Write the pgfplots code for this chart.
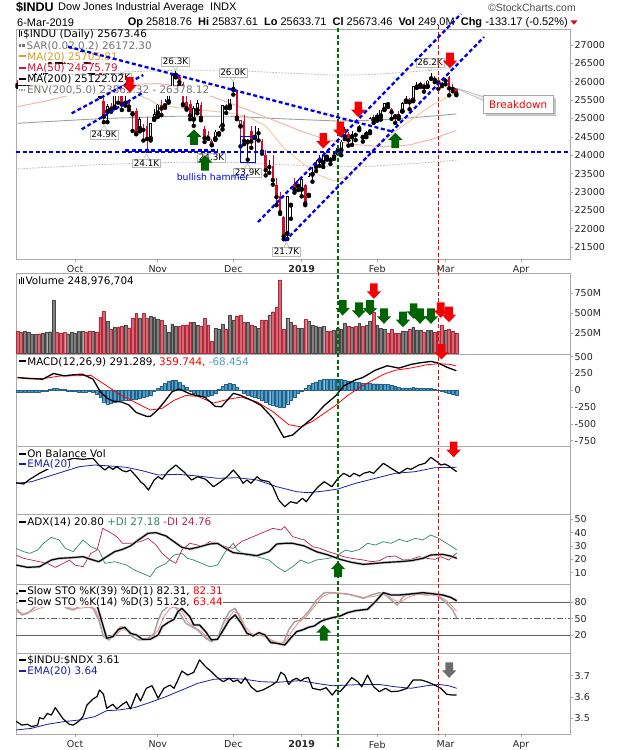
\documentclass[border=0pt]{standalone}
\usepackage{fontspec}
\setmainfont{DejaVu Sans}
\newfontfamily\hdr{Liberation Sans}
\usepackage{pgfplots}
\usepackage{pgfplotstable}
\pgfplotsset{compat=1.18}

\definecolor{bord}{RGB}{170,170,170}
\definecolor{cred}{RGB}{205,15,45}
\definecolor{vred}{RGB}{210,105,115}
\definecolor{vredd}{RGB}{180,40,60}
\definecolor{vgray}{RGB}{128,128,128}
\definecolor{vgrayd}{RGB}{70,70,70}
\definecolor{hblue}{RGB}{80,160,200}
\definecolor{hblued}{RGB}{35,95,135}
\definecolor{maA}{RGB}{240,205,160}
\definecolor{maAt}{RGB}{215,160,35}
\definecolor{maB}{RGB}{245,180,180}
\definecolor{maBt}{RGB}{210,20,60}
\definecolor{maC}{RGB}{160,160,160}
\definecolor{envc}{RGB}{185,185,185}
\definecolor{annb}{RGB}{0,0,235}
\definecolor{dgreen}{RGB}{0,110,0}
\definecolor{agreen}{RGB}{0,100,0}
\definecolor{ared}{RGB}{245,0,0}
\definecolor{dip}{RGB}{45,140,100}
\definecolor{dim}{RGB}{185,35,85}
\definecolor{navyl}{RGB}{30,30,165}
\definecolor{stok}{RGB}{165,165,165}
\definecolor{stod}{RGB}{240,140,140}

\newcommand\lgf{\fontsize{10.4}{11}\selectfont}
\newcommand\tkf{\fontsize{9.5}{11}\selectfont}
\newcommand\klf{\fontsize{8.8}{10}\selectfont}

% daily bars: index, open, high, low, close, class (1 up hollow, 2 up filled, 3 down hollow, 4 down filled), volume (M), MACD histogram
\pgfplotstableread{
i o h l c cls v hist
1 25950 26040 25860 25916 4 275 -30
2 25960 25990 25830 25857 4 262 -30
3 25830 25990 25800 25971 1 271 -35
4 25970 26070 25930 25999 1 265 -35
5 26060 26200 26050 26145 1 240 -30
6 26170 26230 26120 26155 2 240 -30
7 26150 26190 26040 26062 4 245 -25
8 26090 26300 26080 26246 1 255 -20
9 26270 26440 26260 26406 1 262 -10
10 26460 26670 26450 26657 1 270 10
11 26700 26770 26650 26743 1 667 25
12 26700 26720 26520 26562 4 260 25
13 26590 26630 26490 26492 4 255 20
14 26500 26600 26370 26385 4 260 10
15 26420 26510 26390 26440 1 245 -10
16 26410 26480 26360 26458 1 262 -15
17 26600 26700 26590 26651 1 255 -20
18 26660 26820 26650 26774 1 275 -25
19 26860 26950 26790 26828 2 280 -25
20 26780 26790 26530 26627 4 270 -25
21 26630 26640 26260 26447 4 280 -20
22 26400 26500 26230 26487 1 275 -25
23 26470 26510 26340 26431 4 270 -60
24 26420 26430 25597 25599 4 450 -110
25 25480 25600 24899 25053 4 525 -170
26 25180 25400 24900 25340 1 400 -200
27 25330 25420 25180 25250 4 300 -195
28 25300 25800 25280 25798 1 330 -180
29 25780 25800 25430 25706 4 330 -165
30 25660 25720 25230 25380 4 340 -150
31 25410 25690 25350 25444 1 350 -140
32 25490 25530 25230 25317 4 320 -140
33 25110 25200 24660 25191 3 437 -135
34 25200 25280 24570 24583 4 500 -130
35 24720 25050 24650 24985 1 437 -120
36 24720 24860 24400 24688 4 500 -110
37 24800 25040 24120 24443 4 437 -95
38 24450 24890 24400 24875 1 458 -70
39 24980 25260 24960 25116 1 446 -20
40 25140 25390 25040 25380 1 425 30
41 25380 25500 25090 25271 4 417 60
42 25340 25520 25290 25462 1 354 100
43 25450 25700 25430 25636 1 267 135
44 25800 26200 25780 26181 1 367 150
45 26200 26280 26120 26191 2 333 145
46 26140 26160 25900 25989 4 333 120
47 25950 25990 25360 25387 4 354 80
48 25440 25670 25240 25287 4 354 40
49 25390 25500 24980 25081 4 387 -10
50 24970 25330 24800 25290 1 387 -50
51 25220 25500 25140 25414 1 354 -80
52 25380 25450 24950 25018 4 342 -95
53 24700 24800 24360 24466 4 437 -100
54 24560 24670 24440 24465 4 354 -90
55 24400 24450 24270 24286 4 150 -70
56 24440 24680 24420 24640 1 312 -40
57 24580 24800 24560 24749 1 304 10
58 24800 25370 24700 25367 1 367 60
59 25280 25400 25150 25339 3 304 90
60 25330 25540 25280 25538 1 479 100
61 25780 26000 25650 25826 1 417 85
62 25780 25780 24980 25027 4 470 50
63 24780 24950 24240 24947 3 479 0
64 24920 25100 24300 24389 4 387 -40
65 24350 24450 23880 24423 1 387 -70
66 24650 24800 24200 24371 4 354 -85
67 24480 24800 24470 24528 1 333 -100
68 24620 24730 24400 24597 2 312 -120
69 24400 24440 24040 24101 4 417 -150
70 24000 24150 23450 23592 4 417 -175
71 23700 23860 23520 23676 2 479 -200
72 23700 24000 23200 23324 4 520 -215
73 23200 23380 22640 22860 4 575 -230
74 22880 23000 22400 22446 4 917 -250
75 22320 22340 21712 21792 4 300 -255
76 21860 22880 21720 22878 1 437 -200
77 22630 23140 22270 23139 1 387 -150
78 23210 23380 22980 23062 4 354 -100
79 23150 23340 23050 23327 1 312 -50
80 23060 23400 22880 23346 1 308 -10
81 23180 23210 22640 22686 4 425 30
82 22900 23520 22890 23433 1 396 70
83 23470 23690 23280 23531 1 346 100
84 23680 23860 23570 23787 1 333 125
85 23850 24000 23710 23879 1 325 145
86 23790 24000 23680 24001 1 333 160
87 23940 24010 23880 23996 3 271 170
88 23860 23920 23760 23910 3 271 170
89 23950 24100 23900 24065 1 292 170
90 24090 24260 24050 24207 1 312 165
91 24130 24420 24000 24370 1 300 160
92 24500 24780 24440 24706 1 375 150
93 24580 24620 24260 24405 4 342 140
94 24490 24660 24280 24575 1 325 130
95 24560 24600 24410 24553 4 333 120
96 24760 24830 24680 24737 2 375 115
97 24480 24560 24370 24528 3 333 105
98 24560 24670 24490 24580 1 346 100
99 24630 25030 24600 25014 1 396 100
100 24960 25100 24880 24999 3 508 98
101 25030 25160 24940 25064 1 354 98
102 25060 25240 24970 25239 1 312 96
103 25240 25420 25230 25411 1 300 95
104 25420 25430 25310 25390 4 250 90
105 25270 25290 24990 25169 4 300 80
106 25040 25110 24880 25106 3 250 60
107 25110 25190 24990 25053 4 250 40
108 25190 25440 25190 25425 1 280 30
109 25470 25620 25450 25543 1 271 30
110 25540 25550 25250 25439 4 300 35
111 25490 25890 25470 25883 1 325 40
112 25850 25990 25830 25891 1 292 38
113 25890 26000 25860 25954 1 292 35
114 25950 25960 25730 25850 4 267 30
115 25870 26040 25860 26031 1 283 28
116 26130 26240 26080 26091 2 283 25
117 26070 26150 25990 26057 4 258 15
118 26010 26040 25810 25986 4 271 5
119 25970 26000 25880 25916 4 354 -10
120 26060 26110 25930 26026 2 292 -25
121 26120 26160 25630 25820 4 300 -40
122 25830 25930 25740 25807 4 271 -55
123 25819 25838 25634 25673 4 249 -68
}\pd

\newcommand\wicks[2]{%
\addplot[only marks, mark=none, restrict expr to domain={\thisrow{cls}}{#1},
  error bars/.cd, y dir=plus, y explicit, error mark=none,
  error bar style={draw=#2, line width=0.7pt, solid}]
  table[x=i, y=l, y error expr=\thisrow{h}-\thisrow{l}] {\pd};}
\newcommand\bodies[2]{%
\addplot[only marks, mark=none, restrict expr to domain={\thisrow{cls}}{#1},
  error bars/.cd, y dir=plus, y explicit, error mark=none,
  error bar style={draw=#2, line width=2.7pt, solid}]
  table[x=i, y expr={min(\thisrow{o},\thisrow{c})}, y error expr={abs(\thisrow{c}-\thisrow{o})}] {\pd};}
\newcommand\hollows[1]{%
\addplot[only marks, mark=none, restrict expr to domain={\thisrow{cls}}{#1},
  error bars/.cd, y dir=plus, y explicit, error mark=none,
  error bar style={draw=white, line width=1.3pt, solid}]
  table[x=i, y expr={min(\thisrow{o},\thisrow{c})+20}, y error expr={max(abs(\thisrow{c}-\thisrow{o})-40,0)}] {\pd};}

\newcommand\dnarr[3]{\fill[#3] (#1-3.8,#2) -- (#1+3.8,#2) -- (#1+3.8,#2+8) -- (#1+7.2,#2+8) -- (#1,#2+15.5) -- (#1-7.2,#2+8) -- (#1-3.8,#2+8) -- cycle;}
\newcommand\uparr[3]{\fill[#3] (#1,#2) -- (#1+7.4,#2+7.5) -- (#1+3.9,#2+7.5) -- (#1+3.9,#2+15.5) -- (#1-3.9,#2+15.5) -- (#1-3.9,#2+7.5) -- (#1-7.4,#2+7.5) -- cycle;}
\newcommand\klab[4]{%
  \draw[gray!70, fill=white] (#1-3,{#2+(#4)*4}) -- (#1,{#2+(#4)*9}) -- (#1+3,{#2+(#4)*4});
  \node[draw=gray!55, fill=white, font=\klf, inner xsep=1.4pt, inner ysep=1.1pt, text height=6.4pt, text depth=0pt] at (#1,#2) {#3};}
\newcommand\mk[1]{\textcolor{#1}{\rule[0.3em]{0.65em}{1.8pt}}\,}

\pgfplotsset{
  panel/.style={scale only axis, width=554pt, xmin=0.58, xmax=154.6, anchor=north west,
    axis line style={draw=bord, line width=0.7pt},
    ytick pos=right, yticklabel pos=right, tick align=outside,
    tick style={draw=bord, line width=0.6pt}, major tick length=3pt,
    yticklabel style={font=\tkf, text=black!85, inner sep=1.5pt},
    xticklabel style={font=\tkf, text=black!85},
    scaled y ticks=false,
    /pgf/number format/assume math mode=true, /pgf/number format/1000 sep={},
    xtick=\empty},
  every axis plot/.append style={line join=round}
}

\begin{document}
\begin{tikzpicture}
\path[use as bounding box, fill=white] (0,0) rectangle (620pt,-750pt);

% ---------------- price
\begin{axis}[panel, at={(16pt,-29pt)}, height=230pt, ymin=21174, ymax=27436,
  ytick={21500,22000,...,27000},
  xtick={17,40,61,80,101,120,141}, xticklabels={Oct,Nov,Dec,\textbf{2019},Feb,Mar,Apr}, xtick pos=bottom]
\addplot[envc, line width=0.8pt, dash pattern=on 1.5pt off 1.5pt] coordinates {(1,26114)(25,26250)(45,26313)(60,26313)(75,26240)(90,26177)(100,26198)(112,26282)(123,26378)};
\addplot[envc, line width=0.8pt, dash pattern=on 1.5pt off 1.5pt] coordinates {(1,23627)(25,23750)(45,23807)(60,23807)(75,23741)(90,23684)(100,23703)(112,23779)(123,23866)};
\addplot[maC, line width=0.9pt] coordinates {(1,24870)(25,25000)(45,25060)(60,25060)(75,24990)(90,24930)(100,24950)(112,25030)(123,25122)};
\addplot[maB, line width=1pt] coordinates {(1,25320)(10,25500)(20,25750)(30,25920)(40,25950)(47,25870)(55,25600)(62,25350)(72,24960)(80,24650)(87,24420)(95,24290)(103,24230)(110,24280)(116,24430)(123,24676)};
\addplot[maA, line width=1pt] coordinates {(1,25850)(10,25950)(20,26250)(25,26300)(30,26000)(35,25620)(37,25550)(40,25380)(45,25300)(50,25250)(55,25200)(60,25150)(65,25050)(70,24800)(75,24200)(80,23800)(85,23450)(89,23300)(93,23450)(97,23800)(101,24250)(106,24650)(111,25000)(116,25350)(120,25550)(123,25706)};
\wicks{0.5:1.5}{black}\bodies{0.5:1.5}{black}\hollows{0.5:1.5}
\wicks{1.5:2.5}{black}\bodies{1.5:2.5}{black}
\wicks{2.5:3.5}{cred}\bodies{2.5:3.5}{cred}\hollows{2.5:3.5}
\wicks{3.5:4.5}{cred}\bodies{3.5:4.5}{cred}
\end{axis}

% ---------------- volume
\begin{axis}[panel, at={(16pt,-273.3pt)}, height=80.7pt, ymin=-8.75, ymax=1000,
  ytick={250,500,750}, yticklabels={250M,500M,750M}]
\addplot[ybar, bar width=2.9pt, bar shift=0pt, fill=vgray, draw=vgrayd, line width=0.4pt,
  restrict expr to domain={\thisrow{cls}}{0.5:2.5}] table[x=i, y=v] {\pd};
\addplot[ybar, bar width=2.9pt, bar shift=0pt, fill=vred, draw=vredd, line width=0.4pt,
  restrict expr to domain={\thisrow{cls}}{2.5:4.5}] table[x=i, y=v] {\pd};
\end{axis}

% ---------------- MACD
\begin{axis}[panel, at={(16pt,-354pt)}, height=92pt, ymin=-829, ymax=540,
  ytick={-750,-500,-250,0,250,500}]
\addplot[ybar, bar width=2.9pt, bar shift=0pt, fill=hblue, draw=hblued, line width=0.4pt] table[x=i, y=hist] {\pd};
\addplot[red, line width=0.8pt] coordinates {(1,188)(8,173)(12.6,211)(21.4,222)(25.8,67)(29.1,-53)(33.5,-173)(37.9,-294)(41.2,-270)(44.5,-150)(47.8,-77)(51.1,-90)(55.5,-190)(59.9,-130)(63.2,-101)(67.6,-173)(72,-318)(76.4,-511)(79.7,-544)(83,-463)(86.3,-342)(89.5,-222)(92.8,-77)(96.1,43)(99.4,140)(102.7,236)(106,298)(110.4,332)(114.8,380)(118.1,395)(121.4,385)(123,360)};
\addplot[black, line width=1.3pt] coordinates {(1,190)(4,175)(8,165)(11,250)(14,215)(16,228)(19,240)(22,165)(24,-20)(26,-120)(27.5,-160)(30,-175)(32,-220)(34,-330)(37,-390)(38,-385)(40,-290)(42,-160)(44,-20)(46,20)(49,-55)(51,-80)(53,-100)(56,-240)(57.7,-245)(61,-45)(63,-75)(66.5,-160)(68.7,-225)(72,-415)(75,-700)(77.5,-665)(79.7,-560)(83,-415)(86.3,-225)(89.5,-80)(91.7,65)(95,155)(97,190)(100.5,300)(103.8,365)(107,330)(110.4,385)(113,410)(116,430)(118,405)(120.3,345)(123,291)};
\end{axis}

% ---------------- On Balance Volume (no scale shown)
\begin{axis}[panel, at={(16pt,-446pt)}, height=68pt, ymin=0, ymax=68, ytick=\empty]
\addplot[navyl, line width=0.8pt] coordinates {(0.5,30.7)(4.9,32.3)(9.3,37.3)(13.7,42.3)(18.1,47.3)(22.5,49)(26.9,48)(31.3,46.7)(35.7,43.3)(40.1,39)(45.6,39.7)(51.1,38)(56.6,35.7)(62.1,36.3)(67.6,34)(73.1,27.3)(78.6,22.3)(81.9,21.3)(86.3,23)(90.1,25)(95,30.7)(100.5,35.7)(106,40.7)(111.5,42.3)(117,46.3)(123.1,46.7)};
\addplot[black, line width=1.2pt] coordinates {(0.5,31.3)(2.7,30)(4.4,34.7)(7.1,40.7)(9.3,44.7)(11.5,49)(14.3,53.3)(16.5,55.7)(19.2,54.7)(22,55.7)(23.6,49)(25.3,44)(26.4,47.3)(27.5,44.7)(28.6,47.3)(30.2,43.3)(31.3,42.3)(32.4,44)(34.1,37.3)(35.2,32.3)(36.3,29)(37.4,24)(39,34)(40.1,37.3)(41.2,34.7)(42.8,42.3)(45,49)(47.2,42.3)(49.4,34)(51.1,37.3)(53.3,34.7)(55.5,27.3)(57.1,31.3)(59.3,37.3)(61,44)(62.6,37.3)(63.7,30.7)(64.8,34)(65.9,30.7)(67.6,37.3)(68.7,34)(70.9,32.3)(72,27.3)(73.6,14)(75.3,7.3)(76.9,12.3)(78.6,10.7)(80.2,15.7)(81.3,12.3)(83,20.7)(84.6,27.3)(86.3,32.3)(88.4,27.3)(90.1,35.7)(91.7,40.7)(93.4,37.3)(94.5,40.7)(96.1,38)(97.2,40.7)(98.9,42.3)(100,40.7)(102.7,50.7)(104.9,45.7)(107.1,40.7)(109.3,45.7)(110.4,44.7)(112.6,49)(114.3,50.7)(115.9,56.7)(117.6,52.3)(118.7,49)(119.8,50)(120.9,48)(123.1,42.3)};
\end{axis}

% ---------------- ADX
\begin{axis}[panel, at={(16pt,-514pt)}, height=70pt, ymin=1.54, ymax=53.97, ytick={10,20,30,40,50}]
\addplot[dip, line width=0.7pt] coordinates {(0.5,28.25)(2.7,25.75)(4.4,24.5)(6.6,27)(8.2,32)(10.4,36.5)(12.6,34.5)(14.3,28.25)(16.5,25.75)(19.2,34.5)(21.4,29.5)(23.6,27)(25.3,17)(28,18.25)(31.3,15.75)(33.5,12)(35.7,9.5)(37.9,7)(39.5,13.25)(42.3,17)(44.5,23.25)(46.7,24.5)(48.3,20.75)(50,19.5)(52.2,17)(54.4,14.5)(56.6,15.75)(58.8,25.75)(61,32)(62.1,27)(64.3,23.25)(67.6,22)(70.9,19.5)(73.1,14.5)(75.3,10.75)(77.5,14.5)(79.7,19.5)(81.9,17)(84.1,19.5)(87.4,20.75)(89.6,22)(90.7,24.5)(92.3,27)(93.9,25.75)(96.1,27.5)(98.3,32)(100.5,30.75)(102.7,33.25)(104.9,32)(107.1,35)(109.3,33.25)(111.5,35.75)(113.7,34.5)(115.9,38.25)(118.1,35.75)(120.3,32)(123.1,27.2)};
\addplot[dim, line width=0.7pt] coordinates {(0.5,23.25)(2.7,20.75)(4.9,19.5)(7.1,18.25)(9.3,17)(11.5,14)(13.7,17)(15.4,19.5)(17,15.75)(19.2,14.5)(21.4,24.5)(23.1,27)(24.7,43.25)(26.4,40.75)(28.6,37)(30.2,32)(32.4,32)(35.2,33.25)(37.3,35.75)(39.5,30.75)(41.2,24.5)(43.4,19.5)(45,17)(46.7,27)(48.9,32)(51.1,30.75)(52.2,29.5)(54.4,33.25)(56.6,32)(58.8,29.5)(61,28.25)(63.2,33.25)(66.5,37)(68.7,39.5)(72,43.25)(74.2,42)(75.3,44.5)(77.5,37)(80.8,34.5)(83,29.5)(85.2,28.25)(87.4,25.75)(89.6,24)(91.7,22)(93.9,20.75)(97.2,19.5)(99.4,18.25)(101.6,19)(103.8,22)(106,22.5)(108.2,19.5)(110.4,20)(112.6,22)(114.8,20.75)(117,20)(118.7,22)(120.9,19.5)(123.1,24.8)};
\addplot[gray!45, line width=2.6pt] coordinates {(0.5,15.8)(3.8,14)(7.1,14.5)(10.4,19.5)(12.6,20.75)(15.9,21.25)(19.2,22)(21.4,20)(23.6,18.25)(25.8,22)(28,25.75)(30.2,27.5)(32.4,30)(34.6,34.5)(37.3,39.5)(39.5,40)(42.3,37.5)(44.5,33.25)(46.7,29)(48.9,27.75)(51.1,29)(54.4,31.5)(56.6,32)(58.8,28.25)(61,25)(64.3,24)(67.6,22.75)(70.9,25.75)(73.1,31.5)(75.3,32)(77.5,32)(80.8,30)(84.1,25.75)(87.4,23.25)(90.7,20)(93.9,17.75)(97.2,16.25)(100.5,17)(103.8,17.75)(107.1,18.25)(110.4,19)(113.7,20.75)(115.9,23.25)(119.2,23.75)(121.4,22.5)(123.1,20.8)};
\addplot[black, line width=1.2pt] coordinates {(0.5,15.8)(3.8,14)(7.1,14.5)(10.4,19.5)(12.6,20.75)(15.9,21.25)(19.2,22)(21.4,20)(23.6,18.25)(25.8,22)(28,25.75)(30.2,27.5)(32.4,30)(34.6,34.5)(37.3,39.5)(39.5,40)(42.3,37.5)(44.5,33.25)(46.7,29)(48.9,27.75)(51.1,29)(54.4,31.5)(56.6,32)(58.8,28.25)(61,25)(64.3,24)(67.6,22.75)(70.9,25.75)(73.1,31.5)(75.3,32)(77.5,32)(80.8,30)(84.1,25.75)(87.4,23.25)(90.7,20)(93.9,17.75)(97.2,16.25)(100.5,17)(103.8,17.75)(107.1,18.25)(110.4,19)(113.7,20.75)(115.9,23.25)(119.2,23.75)(121.4,22.5)(123.1,20.8)};
\end{axis}

% ---------------- Slow stochastics
\begin{axis}[panel, at={(16pt,-584pt)}, height=69pt, ymin=-11.9, ymax=112.4, ytick={20,50,80}]
\addplot[gray!75!black, line width=0.9pt] coordinates {(0.58,80)(154.6,80)};
\addplot[gray!75!black, line width=0.9pt] coordinates {(0.58,20)(154.6,20)};
\addplot[gray!75!black, line width=0.8pt, dash pattern=on 6pt off 2pt on 1.5pt off 2pt] coordinates {(0.58,50)(154.6,50)};
\addplot[stok, line width=1.5pt] coordinates {(0.5,68.6)(2.2,56.6)(3.8,59.6)(6,71.6)(8.2,74.6)(10.4,77.6)(12.6,77.6)(14.8,68.6)(16.5,65.6)(18.1,71.6)(20.3,74.6)(22,68.6)(23.6,47.6)(24.9,17.6)(26.4,11.6)(28,23.6)(29.7,35.6)(31.3,29.6)(33,17.6)(34.6,11.6)(36.8,11.6)(39,23.6)(40.1,47.6)(41.2,62.6)(42.8,71.6)(44.5,74.6)(46.1,59.6)(47.8,41.6)(49.4,35.6)(51.1,29.6)(53.3,14.6)(54.9,8.6)(56.6,14.6)(58.2,41.6)(59.9,62.6)(61.5,68.6)(63.2,47.6)(64.8,23.6)(66.5,20.6)(68.7,23.6)(70.9,11.6)(73.1,5.6)(74.7,2.6)(76.4,29.6)(78,44.6)(79.7,47.6)(81.9,62.6)(84.1,83.6)(86.3,96.8)(88.5,96.8)(90.7,95.6)(92.8,94.4)(95,90.8)(97.2,86.6)(99.4,92.6)(101.6,96.8)(103.3,92.6)(104.9,83.6)(106.6,74.6)(108.2,89.6)(110.4,95.6)(112.6,94.4)(114.8,92.6)(117,95.6)(118.7,86.6)(120.3,77.6)(122,65.6)(123.1,51.3)};
\addplot[stod, line width=0.8pt] coordinates {(0.5,62.6)(2.7,59.6)(4.9,62.6)(7.1,68.6)(9.3,72.8)(11.5,74.6)(13.7,74.6)(15.9,68.6)(18.1,68.6)(20.3,70.4)(22.5,68.6)(24.7,35.6)(26.4,14.6)(28,17.6)(29.7,29.6)(31.3,29.6)(33.5,20.6)(35.7,12.8)(37.9,12.8)(40.1,29.6)(41.7,53.6)(43.4,68.6)(45,71.6)(46.7,62.6)(48.3,44.6)(50,35.6)(52.2,26.6)(53.8,14.6)(56,11.6)(57.7,23.6)(59.3,47.6)(61,62.6)(62.6,59.6)(64.3,35.6)(65.9,23.6)(67.6,20.6)(69.8,17.6)(72,10.4)(74.2,5.6)(75.8,11.6)(77.5,29.6)(79.1,42.8)(81.3,53.6)(83.5,71.6)(85.7,89.6)(87.9,95.6)(90.7,95.6)(93.9,92.6)(97.2,88.4)(100,89.6)(102.2,94.4)(104.4,89.6)(106,82.4)(107.7,80.6)(109.9,89.6)(112.6,93.8)(115.9,92.6)(118.1,90.8)(120.3,82.4)(122,71.6)(123.1,63.4)};
\addplot[gray!45, line width=2.6pt] coordinates {(0.5,95)(5,97)(10,98)(15,99)(20,96)(22.5,92)(23.1,74.6)(25.8,14.6)(27.5,17.6)(29.1,30.8)(30.8,34.4)(32.4,23.6)(34.1,20.6)(35.7,12.8)(37.9,12.8)(40.1,20.6)(41.2,35.6)(42.8,42.8)(44.5,48.8)(45.6,62.6)(46.7,68.6)(48.9,53.6)(50,38.6)(51.6,38.6)(53.3,26.6)(54.9,11.6)(56.6,12.8)(58.2,29.6)(59.9,47.6)(61.5,56.6)(63.2,41.6)(64.8,23.6)(66.5,18.8)(68.1,24.8)(69.8,20.6)(71.4,6.8)(73.1,5.6)(75.3,2.6)(76.9,14.6)(78.6,26.6)(80.2,29.6)(81.9,34.4)(83.5,36.8)(85.2,44.6)(86.8,48.8)(89,52.4)(90.7,54.8)(92.8,60.8)(95,64.4)(98.3,66.8)(100.5,80.6)(102.7,96.8)(104.9,92.6)(107.1,92.6)(110.4,94.4)(113.7,96.8)(117,94.4)(119.2,92.6)(121.4,88.4)(123.1,82.3)};
\addplot[black, line width=1.3pt] coordinates {(0.5,95)(5,97)(10,98)(15,99)(20,96)(22.5,92)(23.1,74.6)(25.8,14.6)(27.5,17.6)(29.1,30.8)(30.8,34.4)(32.4,23.6)(34.1,20.6)(35.7,12.8)(37.9,12.8)(40.1,20.6)(41.2,35.6)(42.8,42.8)(44.5,48.8)(45.6,62.6)(46.7,68.6)(48.9,53.6)(50,38.6)(51.6,38.6)(53.3,26.6)(54.9,11.6)(56.6,12.8)(58.2,29.6)(59.9,47.6)(61.5,56.6)(63.2,41.6)(64.8,23.6)(66.5,18.8)(68.1,24.8)(69.8,20.6)(71.4,6.8)(73.1,5.6)(75.3,2.6)(76.9,14.6)(78.6,26.6)(80.2,29.6)(81.9,34.4)(83.5,36.8)(85.2,44.6)(86.8,48.8)(89,52.4)(90.7,54.8)(92.8,60.8)(95,64.4)(98.3,66.8)(100.5,80.6)(102.7,96.8)(104.9,92.6)(107.1,92.6)(110.4,94.4)(113.7,96.8)(117,94.4)(119.2,92.6)(121.4,88.4)(123.1,82.3)};
\end{axis}

% ---------------- $INDU:$NDX ratio
\begin{axis}[panel, at={(16pt,-653pt)}, height=81.3pt, ymin=3.4249, ymax=3.8066, ytick={3.5,3.6,3.7},
  yticklabel style={/pgf/number format/.cd, fixed, precision=1, fixed zerofill},
  xtick={17,40,61,80,101,120,141}, xticklabels={Oct,Nov,Dec,\textbf{2019},Feb,Mar,Apr}, xtick pos=bottom]
\addplot[navyl, line width=0.8pt] coordinates {(0.5,3.445)(4.9,3.453)(9.3,3.472)(13.7,3.484)(18.1,3.492)(22.5,3.508)(25.8,3.536)(29.1,3.539)(33.5,3.55)(37.9,3.575)(42.3,3.602)(46.7,3.633)(51.1,3.664)(55.5,3.683)(59.9,3.688)(64.3,3.683)(68.7,3.672)(73.1,3.669)(79.7,3.677)(84.1,3.664)(88.5,3.653)(92.8,3.656)(97.2,3.659)(101.6,3.659)(106,3.648)(110.4,3.641)(114.8,3.653)(118.1,3.659)(120.9,3.653)(123.1,3.641)};
\addplot[black, line width=1.2pt] coordinates {(0.5,3.487)(2.2,3.468)(3.8,3.472)(4.9,3.461)(6.6,3.468)(7.1,3.503)(8.2,3.497)(9.3,3.523)(10.4,3.515)(11.5,3.55)(12.6,3.523)(13.7,3.497)(15.4,3.472)(16.5,3.468)(18.1,3.487)(19.2,3.508)(20.3,3.562)(22,3.591)(23.1,3.602)(23.8,3.633)(24.9,3.613)(25.8,3.547)(27.5,3.566)(28.6,3.544)(30.2,3.566)(31.3,3.578)(32.4,3.544)(34.1,3.617)(35.2,3.581)(36.8,3.641)(38.4,3.653)(40.1,3.594)(41.7,3.641)(43.4,3.656)(44.5,3.641)(45.6,3.68)(46.7,3.722)(48.3,3.703)(50,3.716)(51.6,3.774)(53.3,3.742)(54.9,3.719)(56.6,3.691)(58.2,3.672)(59.9,3.688)(61,3.672)(62.1,3.68)(63.2,3.664)(64.3,3.691)(65.9,3.648)(67.6,3.625)(69.2,3.633)(70.9,3.648)(72,3.659)(73.1,3.672)(74.2,3.716)(75.3,3.703)(76.4,3.659)(77.5,3.68)(78.6,3.688)(79.7,3.675)(80.8,3.688)(81.9,3.691)(83,3.641)(85.2,3.633)(86.8,3.644)(88.5,3.609)(89.6,3.633)(90.7,3.625)(92.3,3.656)(93.9,3.691)(95.6,3.672)(96.7,3.648)(98.3,3.703)(100,3.648)(101.6,3.625)(103.3,3.641)(104.9,3.625)(107.1,3.628)(109.3,3.641)(111,3.68)(113.2,3.68)(114.8,3.672)(117,3.656)(118.7,3.641)(120.3,3.613)(122,3.609)(123.1,3.61)};
\end{axis}

% ---------------- annotations and legends, in image pixels
\begin{scope}[x=1pt, y=-1pt]
% value labels
\klab{104}{134.5}{24.9K}{-1}
\klab{117.5}{77.5}{25.8K}{1}
\klab{146.5}{163}{24.1K}{-1}
\klab{175.5}{61.5}{26.3K}{1}
\klab{211.5}{157.5}{24.3K}{-1}
\klab{233}{72.5}{26.0K}{1}
\klab{247.5}{172.5}{23.9K}{-1}
\klab{286.5}{251.5}{21.7K}{-1}
\klab{430}{62.5}{26.2K}{1}

% header
\node[anchor=west, inner sep=0, font=\hdr\bfseries\fontsize{12.5}{14}\selectfont] at (16,7.5) {\$INDU};
\node[anchor=west, inner sep=0, font=\hdr\fontsize{11}{12}\selectfont] at (58,7.5) {Dow Jones Industrial Average\ \ INDX};
\node[anchor=east, inner sep=0, font=\hdr\fontsize{10.5}{12}\selectfont, text=black!70] at (576,7.5) {\textcopyright StockCharts.com};
\node[anchor=west, inner sep=0, font=\hdr\fontsize{11}{12}\selectfont] at (17,22.5) {6-Mar-2019};
\node[anchor=east, inner sep=0, font=\hdr\fontsize{11}{12}\selectfont] at (568,22.5) {\textbf{Op} 25818.76\ \ \textbf{Hi} 25837.61\ \ \textbf{Lo} 25633.71\ \ \textbf{Cl} 25673.46\ \ \textbf{Vol} 249.0M\ \ \textbf{Chg} -133.17 (-0.52\%)};
\fill[cred] (570.5,20.3) -- (577.5,20.3) -- (574,24.8) -- cycle;

% legends
\begin{scope}[every node/.style={anchor=west, fill=white, inner xsep=0.6pt, inner ysep=0.3pt, font=\lgf}]
\node at (18,35) {\rule[0.05em]{1.2pt}{0.7em}\hspace{1pt}\rule[0.2em]{1.2pt}{0.5em}\hspace{1pt}\$INDU (Daily) 25673.46};
\node[text=black!55] at (18,46) {\rule[0.25em]{2.5pt}{2.5pt}\hspace{1pt}\rule[0.25em]{2.5pt}{2.5pt}\,SAR(0.02,0.2) 26172.30};
\node[text=maAt] at (18,57) {\mk{maAt}MA(20) 25705.81};
\node[text=maBt] at (18,68.5) {\mk{maBt}MA(50) 24675.79};
\node at (18,79.7) {\mk{black}MA(200) 25122.02};
\node[text=black!55] at (18,90.7) {\textcolor{black!40}{\rule[0.3em]{1.5pt}{1.5pt}\hspace{1pt}\rule[0.3em]{1.5pt}{1.5pt}\hspace{1pt}\rule[0.3em]{1.5pt}{1.5pt}}\,ENV(200,5.0) 23865.32 - 26378.12};
\node at (18,281) {\rule{1.3pt}{0.5em}\hspace{0.6pt}\rule{1.3pt}{0.75em}\hspace{0.6pt}\rule{1.3pt}{0.6em}\,Volume 248,976,704};
\node at (18,362) {\mk{black}MACD(12,26,9) 291.289, \textcolor{red}{359.744,} \textcolor{hblue}{-68.454}};
\node at (18,454) {\mk{black}On Balance Vol};
\node[text=navyl] at (18,464.5) {\mk{navyl}EMA(20)};
\node at (18,522.7) {\mk{black}ADX(14) 20.80 \textcolor{dip}{+DI 27.18} \textcolor{dim}{-DI 24.76}};
\node at (18,591.7) {\mk{black}Slow STO \%K(39) \%D(1) 82.31, \textcolor{red}{82.31}};
\node at (18,602) {\mk{black}Slow STO \%K(14) \%D(3) 51.28, \textcolor{red}{63.44}};
\node at (18,660.7) {\mk{black}\$INDU:\$NDX 3.61};
\node[text=navyl] at (18,671.7) {\mk{navyl}EMA(20) 3.64};
\end{scope}

% vertical markers
\draw[dgreen, line width=1.8pt, dash pattern=on 4pt off 2.5pt] (337.7,28) -- (337.7,750);
\draw[ared, line width=0.9pt, dash pattern=on 4pt off 2.5pt] (438.7,25) -- (438.7,735);

% trend lines
\begin{scope}[annb, line width=2.3pt, dash pattern=on 4pt off 2.6pt]
\draw (68,46.7) -- (393,131.7);
\draw (16,152.3) -- (570,152.3);
\draw (125,150.5) -- (218,150.5);
\draw (258,222) -- (461,14);
\draw (285,241) -- (484,37);
\draw (71.7,113.3) -- (143.3,75);
\draw (81.7,129.3) -- (141.7,93.3);
\end{scope}
\draw[annb, line width=0.9pt] (240,136.7) rectangle (255,162.7);
\node[text=annb, font=\fontsize{9.3}{11}\selectfont, inner sep=0] at (213,177) {bullish hammer};

% breakdown callout
\draw[gray!70, fill=gray!15] (456,88) -- (483,96.5) -- (483,100.5) -- cycle;
\fill[gray!45] (486,98) rectangle (556,116);
\node[draw=gray!70, fill=white, minimum width=70pt, minimum height=18pt, inner sep=0, anchor=north west, font=\lgf, text=ared] at (483,95) {Breakdown};

% arrows
\dnarr{129.7}{77}{ared}
\dnarr{323.3}{133}{ared}
\dnarr{340.3}{121.7}{ared}
\dnarr{358.3}{101.7}{ared}
\dnarr{450}{52.7}{ared}
\uparr{194}{129.3}{agreen}
\uparr{205}{155}{agreen}
\uparr{395.3}{132.7}{agreen}
\dnarr{342.7}{300}{agreen}
\dnarr{359}{302.3}{agreen}
\dnarr{370}{300}{agreen}
\dnarr{384}{308.3}{agreen}
\dnarr{403}{311.7}{agreen}
\dnarr{413.6}{303.3}{agreen}
\dnarr{420}{308.3}{agreen}
\dnarr{431}{308.3}{agreen}
\dnarr{373.9}{283.3}{ared}
\dnarr{440.7}{302.3}{ared}
\dnarr{449}{306.7}{ared}
\dnarr{441.5}{344}{ared}
\dnarr{453.6}{441.7}{ared}
\uparr{338}{561.7}{agreen}
\uparr{323.7}{625}{agreen}
\dnarr{449.2}{662.3}{gray!85!black}
\end{scope}
\end{tikzpicture}
\end{document}
